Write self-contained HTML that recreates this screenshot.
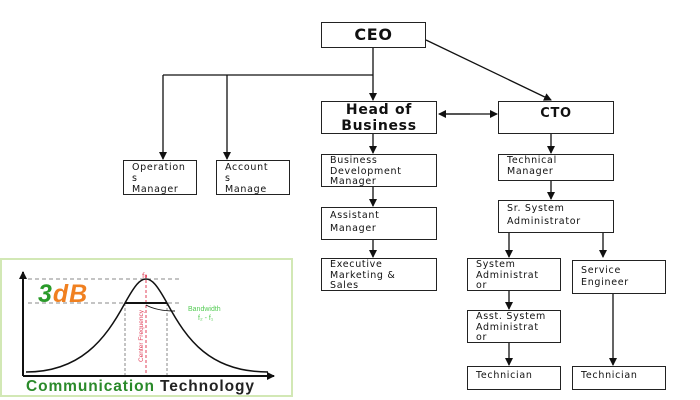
<!DOCTYPE html>
<html><head><meta charset="utf-8"><style>
body{margin:0;width:700px;height:400px;background:#fff;position:relative;overflow:hidden;font-family:"DejaVu Sans","Liberation Sans",sans-serif}
.b{position:absolute;border:1.5px solid #222;box-sizing:border-box;background:#fff;font-size:9.5px;line-height:10.5px;padding:1px 0 0 8px;color:#111;letter-spacing:0.7px;overflow:hidden}
.big{font-weight:bold;font-size:14px;line-height:16px;text-align:center;padding:0}
</style></head><body>
<svg width="700" height="400" style="position:absolute;left:0;top:0">
<defs><marker id="a" markerWidth="8" markerHeight="8" refX="7" refY="4" orient="auto" markerUnits="userSpaceOnUse"><path d="M0,0 L8,4 L0,8z" fill="#111"/></marker></defs>
<g stroke="#111" stroke-width="1.3" fill="none">
<line x1="373" y1="48" x2="373" y2="100" marker-end="url(#a)"/>
<line x1="163" y1="75" x2="373" y2="75"/>
<line x1="163" y1="75" x2="163" y2="159" marker-end="url(#a)"/>
<line x1="227" y1="75" x2="227" y2="159" marker-end="url(#a)"/>
<line x1="426" y1="40" x2="551" y2="100" marker-end="url(#a)"/>
<line x1="445" y1="114" x2="497" y2="114" marker-end="url(#a)"/>
<line x1="470" y1="114" x2="439" y2="114" marker-end="url(#a)"/>
<line x1="373" y1="134" x2="373" y2="153" marker-end="url(#a)"/>
<line x1="373" y1="187" x2="373" y2="206" marker-end="url(#a)"/>
<line x1="373" y1="240" x2="373" y2="257" marker-end="url(#a)"/>
<line x1="551" y1="134" x2="551" y2="153" marker-end="url(#a)"/>
<line x1="551" y1="181" x2="551" y2="199" marker-end="url(#a)"/>
<line x1="509" y1="233" x2="509" y2="257" marker-end="url(#a)"/>
<line x1="603" y1="233" x2="603" y2="257" marker-end="url(#a)"/>
<line x1="509" y1="291" x2="509" y2="309" marker-end="url(#a)"/>
<line x1="509" y1="343" x2="509" y2="365" marker-end="url(#a)"/>
<line x1="613" y1="294" x2="613" y2="365" marker-end="url(#a)"/>
</g>
<rect x="1" y="259" width="291" height="137" fill="#fff" stroke="#d2e8b5" stroke-width="2"/>
<g fill="none">
<line x1="28" y1="279" x2="180" y2="279" stroke="#888" stroke-dasharray="4,3"/>
<line x1="28" y1="303" x2="180" y2="303" stroke="#888" stroke-dasharray="4,3"/>
<line x1="125" y1="303" x2="125" y2="376" stroke="#888" stroke-dasharray="3,2"/>
<line x1="167" y1="303" x2="167" y2="376" stroke="#888" stroke-dasharray="3,2"/>
<line x1="146" y1="275" x2="146" y2="376" stroke="#e0405a" stroke-dasharray="3,2"/>
<path d="M26,372 C80,372 105,340 125,303 C135,285 140,279 146,279 C152,279 157,285 167,303 C187,340 210,372 268,372" stroke="#111" stroke-width="1.5"/>
<line x1="125" y1="303" x2="167" y2="303" stroke="#111" stroke-width="2"/>
<path d="M146,305 C155,310 165,311 175,311" stroke="#111"/>
<line x1="23" y1="376" x2="23" y2="272" stroke="#111" stroke-width="2" marker-end="url(#a)"/>
<line x1="23" y1="376" x2="274" y2="376" stroke="#111" stroke-width="2" marker-end="url(#a)"/>
</g>
<text x="188" y="311" font-size="7" fill="#5c5" font-family="Liberation Sans">Bandwidth</text>
<text x="198" y="320" font-size="7" fill="#5c5" font-family="Liberation Sans">f₂ - f₁</text>
<text x="142" y="278" font-size="7" fill="#e0405a">f₀</text>
<text transform="translate(143,362) rotate(-90)" font-size="6.5" fill="#e0405a" font-family="Liberation Sans">Center Frequency</text>
<text x="38" y="302" font-size="25" font-weight="bold" font-style="italic" font-family="Liberation Sans" letter-spacing="1"><tspan fill="#2a9a2a">3</tspan><tspan fill="#f08020">dB</tspan></text>
<text x="26" y="391" font-size="15.5" font-weight="bold" font-family="Liberation Sans" letter-spacing="0.9"><tspan fill="#2a8a2a">Communication</tspan><tspan fill="#222"> Technology</tspan></text>
</svg>
<div class="b big" style="left:321px;top:22px;width:105px;height:26px;font-size:16px;line-height:24px">CEO</div>
<div class="b big" style="left:321px;top:101px;width:116px;height:33px">Head of<br>Business</div>
<div class="b big" style="left:498px;top:101px;width:116px;height:33px;line-height:24px;font-size:13px">CTO</div>
<div class="b" style="left:123px;top:160px;width:74px;height:35px;line-height:11px">Operation<br>s<br>Manager</div>
<div class="b" style="left:216px;top:160px;width:74px;height:35px;line-height:11px">Account<br>s<br>Manage</div>
<div class="b" style="left:321px;top:154px;width:116px;height:33px">Business<br>Development<br>Manager</div>
<div class="b" style="left:321px;top:207px;width:116px;height:33px;line-height:13px">Assistant<br>Manager</div>
<div class="b" style="left:321px;top:258px;width:116px;height:33px">Executive<br>Marketing &amp;<br>Sales</div>
<div class="b" style="left:498px;top:154px;width:116px;height:27px">Technical<br>Manager</div>
<div class="b" style="left:498px;top:200px;width:116px;height:33px;line-height:13px">Sr. System<br>Administrator</div>
<div class="b" style="left:467px;top:258px;width:94px;height:33px">System<br>Administrat<br>or</div>
<div class="b" style="left:572px;top:260px;width:94px;height:34px;padding-top:4px;line-height:12px">Service<br>Engineer</div>
<div class="b" style="left:467px;top:310px;width:94px;height:33px">Asst. System<br>Administrat<br>or</div>
<div class="b" style="left:467px;top:366px;width:94px;height:24px;padding-top:4px">Technician</div>
<div class="b" style="left:572px;top:366px;width:94px;height:24px;padding-top:4px">Technician</div>
</body></html>
